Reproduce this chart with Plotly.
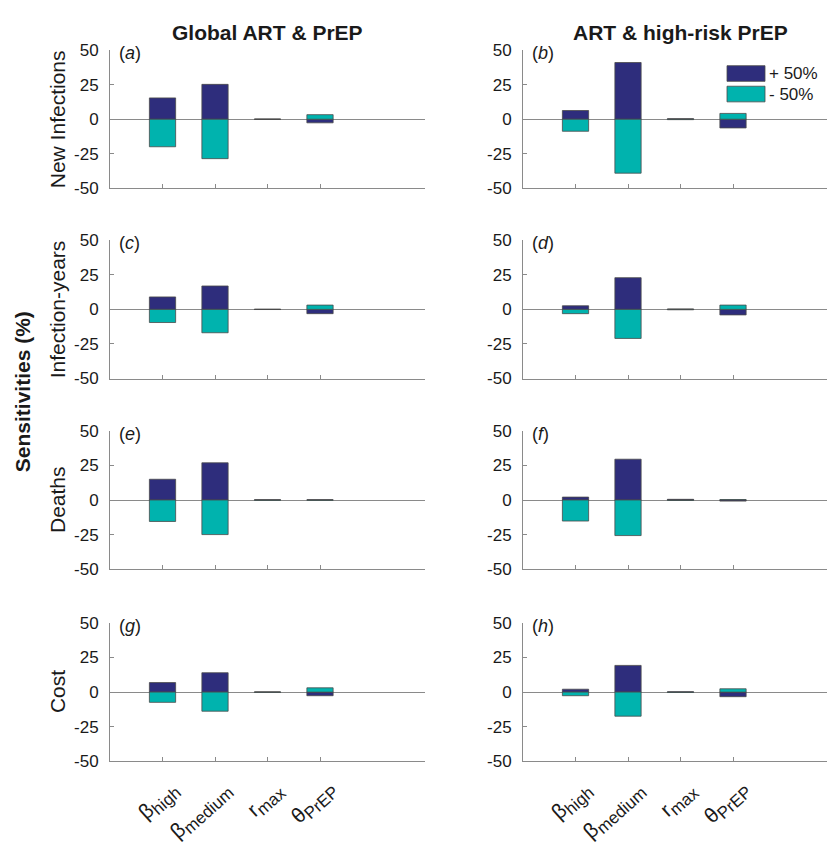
import plotly.graph_objects as go

# ---------------- data ----------------
categories = [1, 2, 3, 4]
tick_symbols = ["β", "β", "r", "θ"]
tick_subscripts = ["high", "medium", "max", "PrEP"]
y_tick_vals = [-50, -25, 0, 25, 50]
y_tick_text = ["-50", "-25", "0", "25", "50"]
col_titles = ["Global ART & PrEP", "ART & high-risk PrEP"]
row_titles = ["New Infections", "Infection-years", "Deaths", "Cost"]
panel_letters = ["a", "b", "c", "d", "e", "f", "g", "h"]
series_names = ["+ 50%", "- 50%"]

infections_global_plus = [15.4, 25.2, 0.0, -2.6]
infections_global_minus = [-19.9, -28.5, 0.0, 3.3]
infections_hr_plus = [6.3, 41.0, 0.4, -6.3]
infections_hr_minus = [-8.7, -39.0, -0.3, 4.2]

infyears_global_plus = [9.0, 16.9, 0.1, -3.1]
infyears_global_minus = [-9.5, -16.9, -0.1, 3.1]
infyears_hr_plus = [2.6, 22.9, 0.3, -4.0]
infyears_hr_minus = [-3.1, -21.0, -0.3, 3.1]

deaths_global_plus = [15.0, 26.9, 0.1, 0.1]
deaths_global_minus = [-15.5, -25.0, -0.1, -0.1]
deaths_hr_plus = [2.1, 29.5, 0.5, -0.8]
deaths_hr_minus = [-15.2, -25.7, -0.3, 0.3]

cost_global_plus = [6.9, 14.0, 0.1, -2.6]
cost_global_minus = [-7.4, -13.8, -0.1, 3.1]
cost_hr_plus = [2.1, 19.3, 0.2, -3.3]
cost_hr_minus = [-2.6, -17.4, -0.2, 2.4]

panels = [
    (infections_global_plus, infections_global_minus),
    (infections_hr_plus, infections_hr_minus),
    (infyears_global_plus, infyears_global_minus),
    (infyears_hr_plus, infyears_hr_minus),
    (deaths_global_plus, deaths_global_minus),
    (deaths_hr_plus, deaths_hr_minus),
    (cost_global_plus, cost_global_minus),
    (cost_hr_plus, cost_hr_minus),
]

# ---------------- style / layout ----------------
W, H = 827, 849
NAVY = "#2E2D7C"
TEAL = "#00B3AE"
AXC = "#8a8a8a"
EDGE = "#4a4a4a"
TXT = "#1a1a1a"
FONT = "Liberation Sans, Arial, Helvetica, sans-serif"

def px_x(p):
    return p / W

def px_y(p):
    return 1 - p / H

col_px = [(110, 425), (523, 827)]
col_range = [[0, 6], [0, (827 - 523) / 52.5]]
row_top = [42, 236.5, 431.5, 628]
row_h = 141.5

fig = go.Figure()
layout = dict(
    width=W, height=H,
    margin=dict(l=0, r=0, t=0, b=0),
    paper_bgcolor="white", plot_bgcolor="white",
    barmode="overlay",
    showlegend=False,
    font=dict(family=FONT, size=17, color=TXT),
)

annotations = []
for idx, (plus, minus) in enumerate(panels):
    r, c = divmod(idx, 2)
    k = idx + 1
    xa = "x" if k == 1 else f"x{k}"
    ya = "y" if k == 1 else f"y{k}"
    for vals, color, name in ((plus, NAVY, series_names[0]), (minus, TEAL, series_names[1])):
        fig.add_trace(go.Bar(
            x=categories, y=vals, width=0.5, name=name,
            marker=dict(color=color, line=dict(color=EDGE, width=0.8)),
            xaxis=xa, yaxis=ya, showlegend=False,
        ))
    x0, x1 = col_px[c]
    top = row_top[r]
    layout["xaxis" if k == 1 else f"xaxis{k}"] = dict(
        domain=[px_x(x0), px_x(x1)], range=col_range[c], anchor=ya,
        showgrid=False, zeroline=False, showline=True, linecolor=AXC, linewidth=1,
        ticks="inside", ticklen=4, tickcolor=AXC, tickvals=categories,
        showticklabels=False, fixedrange=True,
    )
    layout["yaxis" if k == 1 else f"yaxis{k}"] = dict(
        domain=[px_y(top + row_h), px_y(top)], range=[-50, 50], anchor=xa,
        tickvals=y_tick_vals, ticktext=y_tick_text,
        ticks="inside", ticklen=4, tickcolor=AXC,
        showline=True, linecolor=AXC, linewidth=1, showgrid=False,
        zeroline=True, zerolinecolor=AXC, zerolinewidth=1,
        tickfont=dict(size=17, family=FONT, color=TXT),
        ticklabelstandoff=7, fixedrange=True,
    )
    annotations.append(dict(
        x=px_x(x0 + 7), y=px_y(top + 3), xref="paper", yref="paper",
        xanchor="left", yanchor="middle", showarrow=False,
        text=f"(<i>{panel_letters[idx]}</i>)", font=dict(size=18, family=FONT, color=TXT),
    ))
    # rotated category labels under the bottom row, placed on the axis categories
    if r == 3:
        for cat, sym, sub in zip(categories, tick_symbols, tick_subscripts):
            annotations.append(dict(
                x=cat, y=px_y(top + row_h + 13), xref=xa, yref="paper",
                xanchor="right", yanchor="top", xshift=25, showarrow=False,
                textangle=-42,
                text=f"{sym}<sub><span style='font-size:17px'>{sub}</span></sub>",
                font=dict(size=21, family=FONT, color=TXT),
            ))

# row titles
for r, t in enumerate(row_titles):
    annotations.append(dict(
        x=px_x(57), y=px_y(row_top[r] + row_h / 2), xref="paper", yref="paper",
        xanchor="center", yanchor="middle", showarrow=False, textangle=-90,
        text=t, font=dict(size=21, family=FONT, color=TXT),
    ))

# column titles
for c, t in enumerate(col_titles):
    cx = col_px[c][0] + 315 / 2
    annotations.append(dict(
        x=px_x(cx), y=px_y(24), xref="paper", yref="paper",
        xanchor="center", yanchor="middle", showarrow=False,
        text=f"<b>{t}</b>", font=dict(size=21, family=FONT, color=TXT),
    ))

# overall y title
annotations.append(dict(
    x=px_x(22), y=px_y(392), xref="paper", yref="paper",
    xanchor="center", yanchor="middle", showarrow=False, textangle=-90,
    text="<b>Sensitivities (%)</b>", font=dict(size=21, family=FONT, color=TXT),
))

# legend (panel b)
shapes = []
for i, (name, color) in enumerate(zip(series_names, [NAVY, TEAL])):
    y0 = 58 + i * 21
    shapes.append(dict(
        type="rect", xref="paper", yref="paper",
        x0=px_x(727), x1=px_x(765), y0=px_y(y0 + 16), y1=px_y(y0),
        fillcolor=color, line=dict(color=EDGE, width=0.8),
    ))
    annotations.append(dict(
        x=px_x(767), y=px_y(y0 + 8), xref="paper", yref="paper",
        xanchor="left", yanchor="middle", showarrow=False,
        text=name, font=dict(size=17, family=FONT, color=TXT),
    ))

layout["annotations"] = annotations
layout["shapes"] = shapes
fig.update_layout(**layout)
fig.write_html(
    "out.html",
    config={"displayModeBar": False},
    post_script="document.body.style.margin='0';",
)
